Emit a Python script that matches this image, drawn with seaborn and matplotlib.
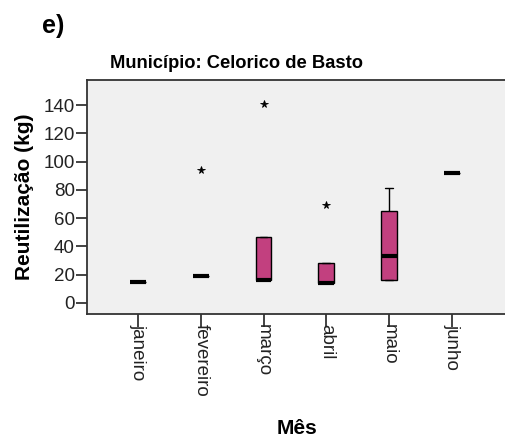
import matplotlib
matplotlib.use("Agg")
import matplotlib.pyplot as plt
import pandas as pd
import seaborn as sns

# Monthly reuse observations (kg) for Celorico de Basto
months = ["janeiro", "fevereiro", "março", "abril", "maio", "junho"]
janeiro = [15]
fevereiro = [19, 19, 19, 19, 94]
marco = [16, 16, 16, 47, 141]
abril = [14, 14, 14, 28, 69]
maio = [16, 16, 33, 65, 81]
junho = [92]
y_ticks = [0, 20, 40, 60, 80, 100, 120, 140]

series = [janeiro, fevereiro, marco, abril, maio, junho]
rows = [(m, v) for m, vals in zip(months, series) for v in vals]
df = pd.DataFrame(rows, columns=["Mês", "Reutilização (kg)"])

sns.set_theme(style="white")
plt.rcParams["font.family"] = ["Liberation Sans", "DejaVu Sans"]

W, H = 505, 441
fig = plt.figure(figsize=(W / 100, H / 100), dpi=100)
ax_left, ax_top, ax_bottom = 87.3, 80, 314
ax = fig.add_axes([ax_left / W, 1 - ax_bottom / H, 1 - ax_left / W, (ax_bottom - ax_top) / H])
ax.set_facecolor("#F0F0F0")

sns.boxplot(
    data=df, x="Mês", y="Reutilização (kg)", order=months, ax=ax,
    width=0.25, color="#C2407F", saturation=1, linecolor="black",
    linewidth=1, whis=1.5, fliersize=5.5,
    flierprops=dict(marker="*", markerfacecolor="black", markeredgecolor="black",
                    markeredgewidth=0.6),
    medianprops=dict(color="black", linewidth=3),
)

ax.set_xlim(-0.81, 5.85)
ax.set_ylim(-7.8, 157.7)
ax.set_yticks(y_ticks)
ax.set_xticks(range(len(months)))
ax.set_xticklabels(months, rotation=270)

ax.tick_params(axis="y", length=8, width=1.2, color="#222222", labelsize=13.5,
               labelcolor="#222222", pad=1, left=True)
ax.tick_params(axis="x", length=9, width=1.2, color="#222222", labelsize=13.5,
               labelcolor="#222222", pad=-2, bottom=True)

for side in ("left", "bottom", "top"):
    ax.spines[side].set_visible(True)
    ax.spines[side].set_color("#333333")
    ax.spines[side].set_linewidth(1.3)
ax.spines["right"].set_visible(False)

ax.set_xlabel("Mês", fontsize=15, fontweight="bold", va="center", color="black")
ax.xaxis.set_label_coords((297 - ax_left) / (W - ax_left), (ax_bottom - 428) / (ax_bottom - ax_top))
ax.set_ylabel("Reutilização (kg)", fontsize=15, fontweight="bold", va="center", color="black")
ax.yaxis.set_label_coords((25 - ax_left) / (W - ax_left), 0.5)

fig.text(110 / W, 1 - 63 / H, "Município: Celorico de Basto", ha="left", va="center",
         fontsize=13.2, fontweight="bold", color="black")
fig.text(42 / W, 1 - 26 / H, "e)", ha="left", va="center", fontsize=18,
         fontweight="bold", color="black")

fig.savefig("out.png", dpi=100, facecolor="white")
